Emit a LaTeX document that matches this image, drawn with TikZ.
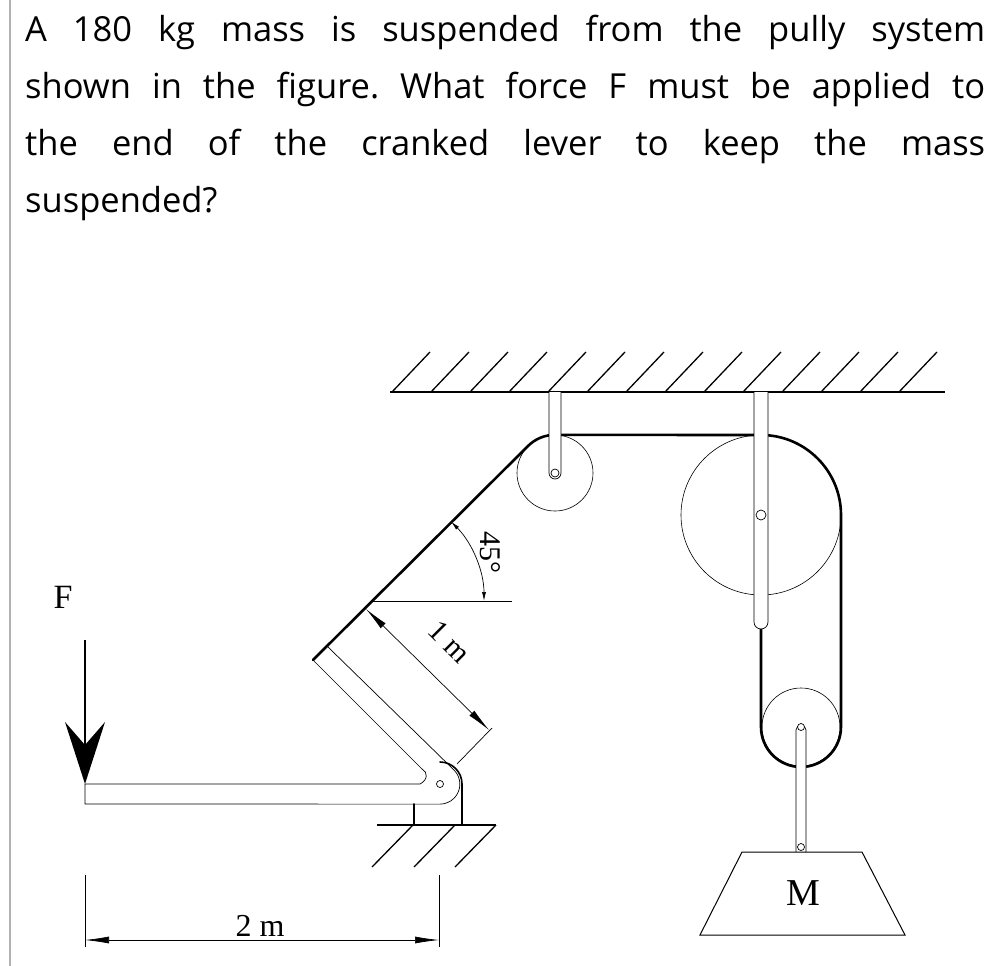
\documentclass[tikz,border=0pt]{standalone}
\usepackage{fontspec}
\setmainfont{Liberation Serif}
\newfontfamily\qfont{Open Sans}
\usetikzlibrary{positioning, arrows.meta, calc}
\tikzset{
  rope/.style={line width=2.6pt, line cap=round},
  thin line/.style={line width=0.7pt},
  wheel/.style={line width=0.6pt},
  rod/.style={line width=0.7pt, fill=white},
  hatch/.style={line width=1.3pt},
  dimarrow/.style={line width=0.7pt, {Latex[length=24pt,width=7pt]}-{Latex[length=24pt,width=7pt]}}
}
\begin{document}
\frenchspacing
\begin{tikzpicture}[x=1pt,y=-1pt]
		\useasboundingbox (0,0) rectangle (1002,966);
		\draw[gray!60, line width=1.2pt] (10,0) -- (10,966);
		
		%Question
		\node[anchor=north west, text width=960pt, align=justify, inner sep=0pt, font=\qfont\fontsize{34.5}{57}\selectfont] (question) at (25,15)
		{\hyphenpenalty=10000 A 180 kg mass is suspended from the pully system\linebreak shown in the figure. What force F must be applied to\linebreak the end of the cranked lever to keep the mass\linebreak suspended?};
		
		%Ceiling
		\draw[hatch] (390,392) -- (945,392);
		\foreach \x in {392,431,...,935}
		\draw[hatch] (\x,392) -- (\x+38,352);
		
		%Pulleys
		\coordinate (p1) at (555,473);
		\coordinate (p2) at (761,515);
		\coordinate (p3) at (801,727);
		\draw[wheel] (p1) circle (38);
		\draw[wheel] (p2) circle (80);
		\draw[wheel] (p3) circle (39);
		
		%Rope
		\draw[rope] (313,660) coordinate (tip) -- (528,446) arc[start angle=-135, end angle=-90, radius=38]
		-- (761,435) arc[start angle=-90, end angle=0, radius=80] -- (841,727)
		arc[start angle=0, end angle=180, radius=40] -- (761,628);
		
		%Rods
		\draw[rod] (549,392) -- (549,473) arc[start angle=180, end angle=0, radius=6] -- (561,392);
		\draw[thin line, fill=white] (p1) circle (4);
		\draw[rod] (754,392) -- (754,622) arc[start angle=180, end angle=0, radius=7] -- (768,392);
		\draw[thin line, fill=white] (p2) circle (5);
		\draw[rod] (796,852) -- (796,730) arc[start angle=-180, end angle=0, radius=5] -- (806,852);
		\draw[thin line, fill=white] (p3) circle (3.5);
		\draw[thin line, fill=white] (801,847) circle (3.5);
		
		%Mass
		\draw[thin line, line width=1pt] (742,852) -- (862,852) -- (905,935) -- (700,935) -- cycle;
		\node (M) at (803,893) {\fontsize{38}{40}\selectfont M};
		
		%Lever
		\coordinate (pivot) at (440,784);
		\draw[thin line] (454,770) -- (327,646);
		\draw[thin line] (tip) -- (422,769);
		\draw[thin line] (454,770) arc[start angle=-45, end angle=90, radius=20] -- (85,804) -- (85,784) -- (420,784)
		.. controls (428,780) and (428,772) .. (422,769);
		\draw[thin line] (pivot) circle (3.5);
		
		%Support
		\draw[rope, line width=1.6pt] (440,762) arc[start angle=-90, end angle=0, radius=22] -- (462,825);
		\draw[rope, line width=1.6pt] (414,804) -- (414,825);
		\draw[hatch] (377,825) -- (496,825);
		\foreach \x in {413,455,496}
		\draw[hatch] (\x,825) -- (\x-41,867);
		
		%Force
		\node (F) at (63,597) {\fontsize{34}{36}\selectfont F};
		\draw[line width=1.4pt] (85,640) -- (85,750);
		\fill (85,784) -- (65,722) -- (85,745) -- (105,722) -- cycle;
		
		%Dimensions
		\draw[thin line] (85,875) -- (85,947);
		\draw[thin line] (439,875) -- (439,947);
		\draw[dimarrow] (85,940) -- (439,940);
		\node[anchor=base] (two) at (260,936) {\fontsize{32}{34}\selectfont 2 m};
		\draw[thin line] (457,764) -- (492,728);
		\draw[dimarrow] (366,609) -- (489,730);
		\node[rotate=-45] (one) at (450,642) {\fontsize{30}{32}\selectfont 1 m};
		\draw[thin line] (372,601) -- (512,601);
		\draw[thin line, {Latex[length=9pt,width=4pt]}-{Latex[length=9pt,width=4pt]}] (484,601) arc[start angle=0, end angle=-45, radius=112];
		\node[rotate=-90] (ang) at (490,552) {\fontsize{30}{32}\selectfont 45°};
		
\end{tikzpicture}
\end{document}
